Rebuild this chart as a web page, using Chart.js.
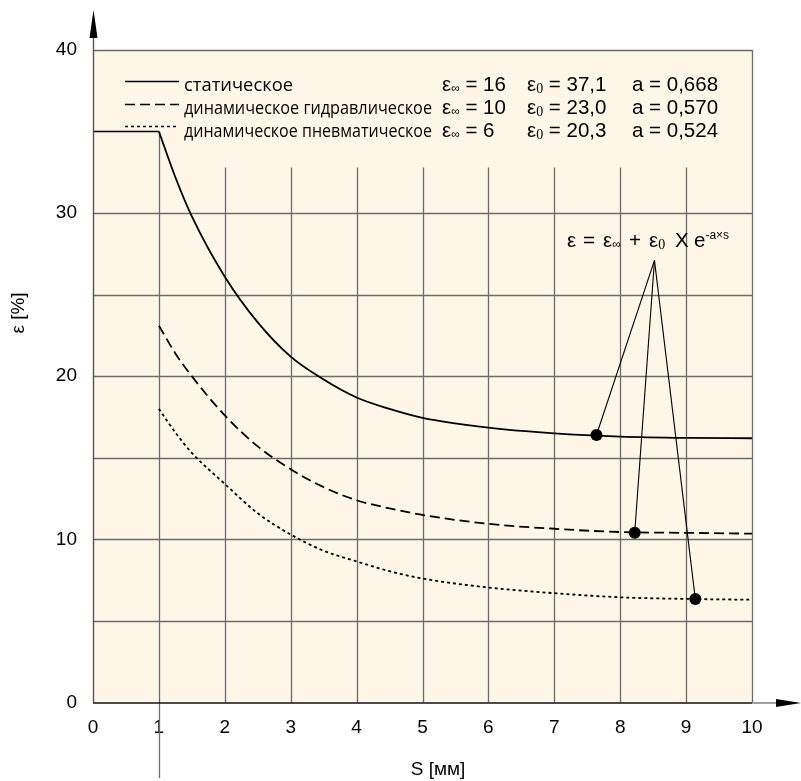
<!DOCTYPE html>
<html>
<head>
<meta charset="utf-8">
<script src="https://cdn.jsdelivr.net/npm/chart.js@4.4.1/dist/chart.umd.min.js"></script>
<style>
  html, body { margin: 0; padding: 0; background: #fff; }
  canvas { display: block; }
</style>
</head>
<body>
<canvas id="chart" width="801" height="781"></canvas>
<script>
// S, мм
const sValues = [1, 1.25, 1.5, 2, 2.5, 3, 3.5, 4, 4.5, 5, 6, 7, 8, 9, 10];
// ε, %
const staticVals = [35.0, 32.2, 29.8, 26.1, 23.3, 21.2, 19.8, 18.7, 18.0, 17.45, 16.85, 16.5, 16.3, 16.22, 16.2];
const hydroVals  = [23.1, 21.4, 20.0, 17.6, 15.7, 14.3, 13.2, 12.4, 11.9, 11.5, 10.95, 10.65, 10.45, 10.4, 10.35];
const pneumoVals = [18.0, 16.55, 15.3, 13.4, 11.6, 10.3, 9.3, 8.65, 8.05, 7.6, 7.05, 6.7, 6.45, 6.35, 6.3];
// plateau before S = 1
const plateauX = [0, 1];
const plateauY = [35, 35];
// formula pointer
const apex = [8.52, 27.1];
const dotX = [7.64, 8.22, 9.14];
const dotY = [16.4, 10.4, 6.34];

const xTicks = [0, 1, 2, 3, 4, 5, 6, 7, 8, 9, 10];
const yTicks = [0, 10, 20, 30, 40];
const hGrid = [5, 10, 15, 20, 25, 30];
const vGrid = [2, 3, 4, 5, 6, 7, 8, 9];
const vGridTop = 32.8;

const legendNames = ['статическое', 'динамическое гидравлическое', 'динамическое пневматическое'];
const epsInf = ['16', '10', '6'];
const eps0 = ['37,1', '23,0', '20,3'];
const aVals = ['0,668', '0,570', '0,524'];

const pts = (xs, ys) => xs.map((x, i) => ({ x: x, y: ys[i] }));

function drawParts(ctx, parts, x, y) {
  parts.forEach(p => {
    ctx.font = p.font;
    if (p.x !== undefined) x = p.x;
    ctx.fillText(p.t, x, y + (p.dy || 0));
    x += ctx.measureText(p.t).width;
  });
  return x;
}

const decor = {
  id: 'decor',
  beforeDatasetsDraw(chart) {
    const { ctx, chartArea: a, scales: { x, y } } = chart;
    ctx.save();
    ctx.fillStyle = '#fef7e7';
    ctx.fillRect(a.left, a.top, a.right - a.left, a.bottom - a.top);
    ctx.strokeStyle = '#6b6b6b';
    ctx.lineWidth = 1.3;
    hGrid.forEach(v => {
      const py = Math.round(y.getPixelForValue(v)) + 0.5;
      ctx.beginPath(); ctx.moveTo(a.left, py); ctx.lineTo(a.right, py); ctx.stroke();
    });
    vGrid.forEach(v => {
      const px = Math.round(x.getPixelForValue(v)) + 0.5;
      ctx.beginPath(); ctx.moveTo(px, y.getPixelForValue(vGridTop)); ctx.lineTo(px, a.bottom); ctx.stroke();
    });
    // S = 1 line, down below the axis
    const p1 = Math.round(x.getPixelForValue(1)) + 0.5;
    ctx.beginPath(); ctx.moveTo(p1, y.getPixelForValue(35)); ctx.lineTo(p1, 778); ctx.stroke();
    // frame
    ctx.beginPath();
    ctx.moveTo(a.left, a.top + 0.5); ctx.lineTo(a.right, a.top + 0.5);
    ctx.moveTo(a.right + 0.5, a.top); ctx.lineTo(a.right + 0.5, a.bottom);
    ctx.stroke();
    ctx.restore();
  },
  afterDraw(chart) {
    const { ctx, chartArea: a } = chart;
    ctx.save();
    // axes with arrows
    ctx.strokeStyle = '#555';
    ctx.lineWidth = 1.4;
    ctx.beginPath();
    ctx.moveTo(a.left + 0.5, a.bottom); ctx.lineTo(a.left + 0.5, 30);
    ctx.stroke();
    ctx.strokeStyle = '#111';
    ctx.beginPath();
    ctx.moveTo(a.left, a.bottom + 0.5); ctx.lineTo(a.right, a.bottom + 0.5);
    ctx.stroke();
    ctx.strokeStyle = '#777';
    ctx.beginPath();
    ctx.moveTo(a.right, a.bottom + 0.5); ctx.lineTo(782, a.bottom + 0.5);
    ctx.stroke();
    ctx.fillStyle = '#000';
    ctx.beginPath();
    ctx.moveTo(a.left + 0.5, 10); ctx.lineTo(a.left + 4.5, 38); ctx.lineTo(a.left - 3.5, 38); ctx.closePath();
    ctx.fill();
    ctx.beginPath();
    ctx.moveTo(801, a.bottom + 0.5); ctx.lineTo(776, a.bottom + 4.5); ctx.lineTo(776, a.bottom - 3.5); ctx.closePath();
    ctx.fill();

    // axis titles
    ctx.fillStyle = '#000';
    ctx.textBaseline = 'middle';
    ctx.textAlign = 'center';
    ctx.font = '19px "Liberation Sans", Arial, sans-serif';
    ctx.fillText('S [мм]', 438, 770);
    ctx.save();
    ctx.translate(19, 313);
    ctx.rotate(-Math.PI / 2);
    ctx.fillText('ε [%]', 0, 0);
    ctx.restore();

    // legend
    ctx.textAlign = 'left';
    ctx.textBaseline = 'alphabetic';
    const lineY = [81, 104, 126];
    const baseY = [90.7, 114, 137.3];
    const legendW = [109, 248, 248];
    const dashes = [[], [10, 5], [3, 3]];
    ctx.strokeStyle = '#000';
    ctx.lineWidth = 1.6;
    lineY.forEach((ly, i) => {
      ctx.setLineDash(dashes[i]);
      ctx.beginPath(); ctx.moveTo(125, ly + 0.5); ctx.lineTo(179, ly + 0.5); ctx.stroke();
    });
    ctx.setLineDash([]);
    ctx.font = '19px "Open Sans", sans-serif';
    legendNames.forEach((n, i) => ctx.fillText(n, 184, baseY[i], legendW[i]));

    const big = '20.5px "Liberation Sans", Arial, sans-serif';
    const subInf = '12px "Liberation Sans", Arial, sans-serif';
    const sub0 = '14px "Liberation Serif", serif';
    baseY.forEach((by, i) => {
      drawParts(ctx, [{ t: 'ε', font: big }, { t: '∞', font: subInf, dy: 1 }, { t: ' = ' + epsInf[i], font: big }], 442, by);
      drawParts(ctx, [{ t: 'ε', font: big }, { t: '0', font: sub0, dy: 2 }, { t: ' = ' + eps0[i], font: big }], 527, by);
      drawParts(ctx, [{ t: 'a = ' + aVals[i], font: big }], 632, by);
    });

    // formula
    const fx = drawParts(ctx, [
      { t: 'ε', font: big, x: 567 }, { t: '=', font: big, x: 583 },
      { t: 'ε', font: big, x: 603 }, { t: '∞', font: subInf, dy: 1 },
      { t: '+', font: big, x: 629 },
      { t: 'ε', font: big, x: 649 }, { t: '0', font: sub0, dy: 2 },
      { t: 'X', font: big, x: 675 }, { t: 'e', font: big, x: 694 }
    ], 567, 247);
    drawParts(ctx, [{ t: '-a×s', font: '12px "Liberation Sans", Arial, sans-serif' }], fx, 239);
    ctx.restore();
  }
};

const lineStyle = { borderColor: '#000', pointRadius: 0, fill: false, cubicInterpolationMode: 'monotone' };

new Chart(document.getElementById('chart'), {
  type: 'line',
  data: {
    datasets: [
      Object.assign({ label: 'plateau', data: pts(plateauX, plateauY), borderWidth: 1.6 }, lineStyle),
      Object.assign({ label: legendNames[0], data: pts(sValues, staticVals), borderWidth: 1.8 }, lineStyle),
      Object.assign({ label: legendNames[1], data: pts(sValues, hydroVals), borderWidth: 1.8, borderDash: [10, 5] }, lineStyle),
      Object.assign({ label: legendNames[2], data: pts(sValues, pneumoVals), borderWidth: 1.8, borderDash: [3, 3] }, lineStyle),
      ...dotX.map((dx, i) => ({
        label: 'ptr' + i,
        data: [{ x: apex[0], y: apex[1] }, { x: dx, y: dotY[i] }],
        borderColor: '#000', borderWidth: 1.1, pointRadius: 0, tension: 0
      })),
      {
        label: 'dots', type: 'scatter', data: pts(dotX, dotY), showLine: false,
        pointRadius: 6, pointBackgroundColor: '#000', pointBorderColor: '#000', pointBorderWidth: 0
      }
    ]
  },
  options: {
    responsive: false,
    animation: false,
    layout: { padding: { left: 0, right: 49, top: 50, bottom: 0 } },
    plugins: { legend: { display: false }, tooltip: { enabled: false } },
    scales: {
      x: {
        type: 'linear', min: 0, max: 10,
        afterFit: s => { s.height = 78.5; },
        afterBuildTicks: s => { s.ticks = xTicks.map(v => ({ value: v })); },
        grid: { display: false, drawTicks: false },
        border: { display: false },
        ticks: { padding: 14, color: '#000', font: { family: '"Liberation Sans", Arial, sans-serif', size: 19 } }
      },
      y: {
        type: 'linear', min: 0, max: 40,
        afterFit: s => { s.width = 93; },
        afterBuildTicks: s => { s.ticks = yTicks.map(v => ({ value: v })); },
        grid: { display: false, drawTicks: false },
        border: { display: false },
        ticks: { padding: 16, color: '#000', font: { family: '"Liberation Sans", Arial, sans-serif', size: 19 } }
      }
    }
  },
  plugins: [decor]
});
</script>
</body>
</html>
